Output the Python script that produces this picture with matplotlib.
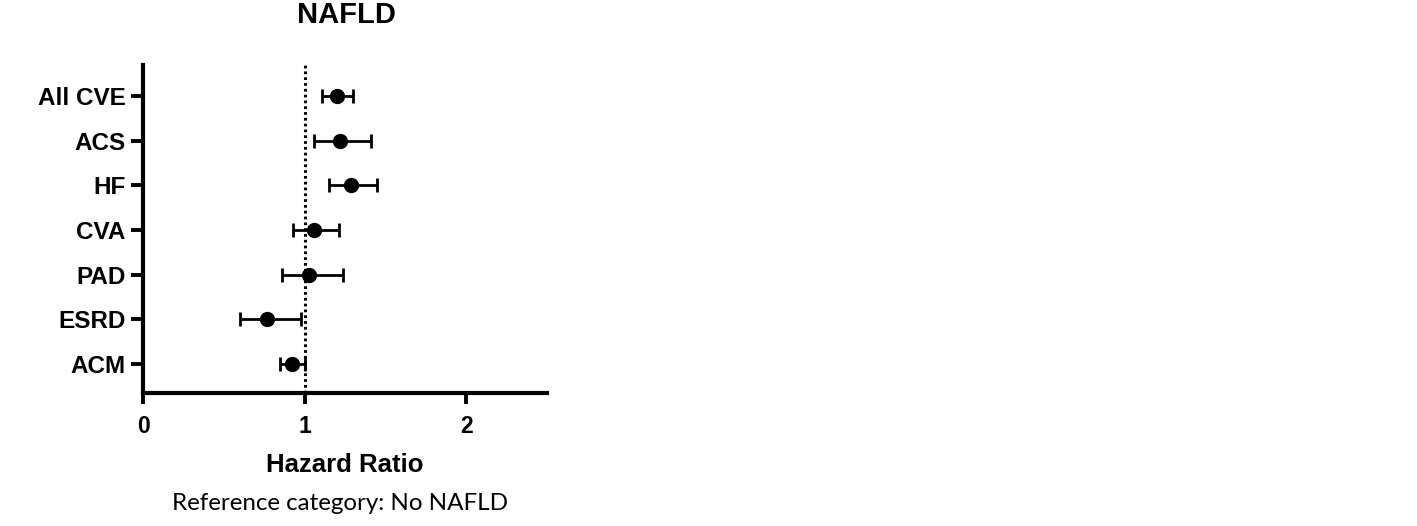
import matplotlib
matplotlib.use("Agg")
import matplotlib.pyplot as plt

categories = ["All CVE", "ACS", "HF", "CVA", "PAD", "ESRD", "ACM"]
hr = [1.20, 1.22, 1.29, 1.06, 1.03, 0.77, 0.92]
ci_low = [1.11, 1.06, 1.15, 0.93, 0.86, 0.60, 0.85]
ci_high = [1.30, 1.41, 1.45, 1.21, 1.24, 0.98, 1.00]
xticks = [0, 1, 2]

plt.rcParams['font.family'] = ['Liberation Sans', 'DejaVu Sans']

fig = plt.figure(figsize=(14.17, 5.26), dpi=100)
ax = fig.add_axes([143/1417, 1-393/526, (547-143)/1417, (393-65)/526])

n = len(categories)
ypos = list(range(n, 0, -1))
xerr = [[h - l for h, l in zip(hr, ci_low)], [u - h for h, u in zip(hr, ci_high)]]

ax.axvline(1, color='black', lw=2.2, linestyle=(0, (0.9, 1.0)), zorder=1)
ax.errorbar(hr, ypos, xerr=xerr, fmt='o', color='black', ms=10,
            elinewidth=2.0, capsize=5, capthick=2.0, zorder=3)

ax.set_xlim(0, 2.5)
ax.set_ylim(0.35, n + 0.69)
ax.set_yticks(ypos)
ax.set_yticklabels(categories, fontsize=17.5, fontweight='bold')
ax.set_xticks(xticks)
ax.set_xticklabels([str(t) for t in xticks], fontsize=16.5, fontweight='bold')
ax.tick_params(axis='y', length=9, width=2.8, pad=3.5)
ax.tick_params(axis='x', length=8, width=2.8, pad=8)
for s in ['top', 'right']:
    ax.spines[s].set_visible(False)
for s in ['left', 'bottom']:
    ax.spines[s].set_linewidth(3.0)

ax.set_xlabel("Hazard Ratio", fontsize=18.5, fontweight='bold', labelpad=11)
fig.text(346/1417, 1-23/526, "NAFLD", fontsize=21, fontweight='bold', ha='center', va='baseline')
fig.text(340/1417, 1-510/526, "Reference category: No NAFLD", fontsize=17.4,
         family=['Lato', 'DejaVu Sans'], ha='center', va='baseline')

fig.savefig("out.png", dpi=100)
